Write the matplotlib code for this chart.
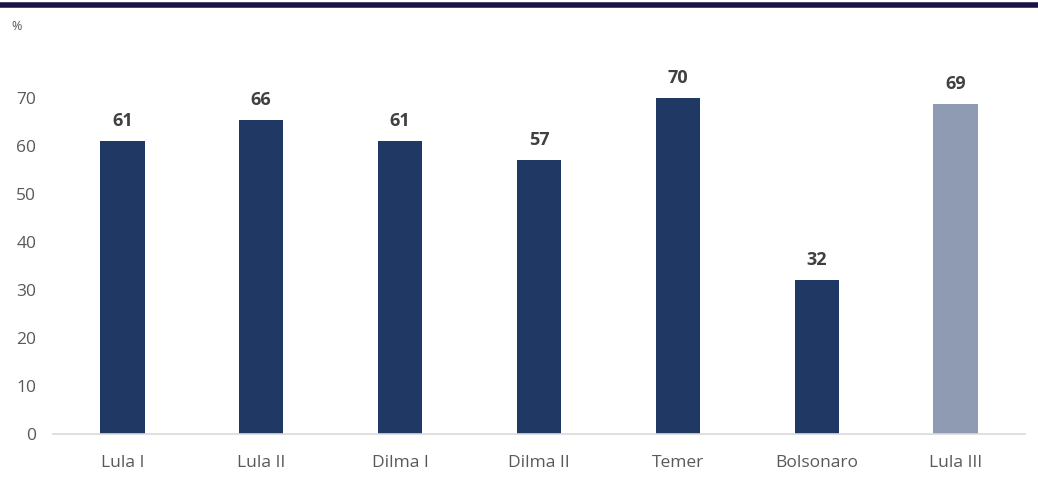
import matplotlib.pyplot as plt
from matplotlib.lines import Line2D

categories = ['Lula I', 'Lula II', 'Dilma I', 'Dilma II', 'Temer', 'Bolsonaro', 'Lula III']
values = [61, 65.5, 61, 57, 70, 32, 68.7]
labels = ['61', '66', '61', '57', '70', '32', '69']
colors = ['#203864'] * 6 + ['#8f9bb3']

plt.rcParams['font.family'] = ['Open Sans', 'DejaVu Sans']

fig = plt.figure(figsize=(10.38, 4.8), dpi=100)
ax = fig.add_axes([0.051, 0.0958, 0.9365, 0.8])

x = range(len(categories))
ax.bar(x, values, width=0.32, color=colors)
for i, (v, t) in enumerate(zip(values, labels)):
    ax.text(i, v + 2.3, t, ha='center', va='bottom', fontsize=13,
            fontweight='bold', color='#404040')

ax.set_xlim(-0.5, len(categories) - 0.5)
ax.set_ylim(0, 80)
ax.set_yticks(range(0, 80, 10))
ax.set_xticks(list(x))
ax.set_xticklabels(categories)
ax.tick_params(axis='both', length=0, labelsize=12.5, colors='#595959')
ax.tick_params(axis='x', pad=15)
ax.tick_params(axis='y', pad=12)
for s in ['top', 'right', 'left']:
    ax.spines[s].set_visible(False)
ax.spines['bottom'].set_color('#d9d9d9')
ax.spines['bottom'].set_linewidth(1.2)

fig.text(0.011, 0.945, '%', fontsize=9, color='#595959', va='center')
fig.add_artist(Line2D([0, 1], [0.989, 0.989], color='#1a1446', linewidth=4,
                      transform=fig.transFigure))

fig.savefig('out.png', dpi=100)
